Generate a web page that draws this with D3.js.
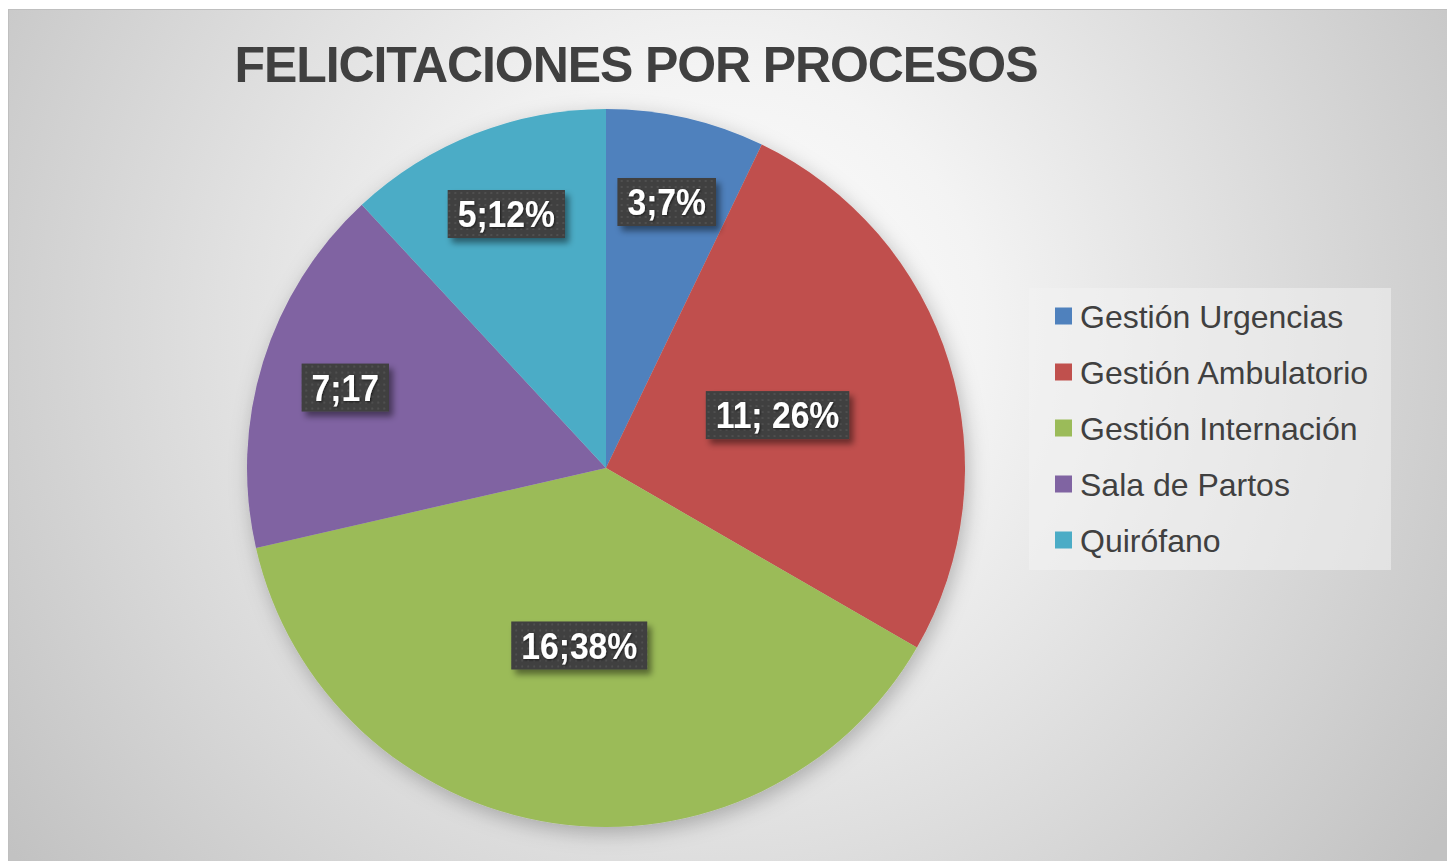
<!DOCTYPE html>
<html lang="es">
<head>
<meta charset="utf-8">
<title>Felicitaciones por procesos</title>
<script src="https://d3js.org/d3.v7.min.js"></script>
<style>
  body { margin: 0; background: #fff; }
  svg { display: block; font-family: "Liberation Sans", Arial, sans-serif; }
  .title { font-weight: bold; fill: #404040; }
  .legend text { fill: #404040; }
  .lbl text { fill: #fff; font-weight: bold; }
</style>
</head>
<body>
<script>
// datos
var procesos = ["Gestión Urgencias", "Gestión Ambulatorio", "Gestión Internación", "Sala de Partos", "Quirófano"];
var felicitaciones = [3, 11, 16, 7, 5];
var etiquetas = ["3;7%", "11; 26%", "16;38%", "7;17", "5;12%"];
var colores = ["#4f81bd", "#c0504d", "#9bbb59", "#8064a2", "#4bacc6"];
var titulo = "FELICITACIONES POR PROCESOS";

var w = 1447, h = 861;
var cx = 606, cy = 468, r = 359;
var sx = 0.91; // estrechamiento del texto de las etiquetas

var svg = d3.select("body").append("svg")
    .attr("width", w)
    .attr("height", h);

var defs = svg.append("defs");

// fondo con degradado radial
var grad = defs.append("radialGradient")
    .attr("id", "fondo")
    .attr("gradientUnits", "userSpaceOnUse")
    .attr("cx", 720).attr("cy", 330).attr("r", 880);
grad.append("stop").attr("offset", "0").attr("stop-color", "#ffffff");
grad.append("stop").attr("offset", "0.3").attr("stop-color", "#f3f3f3");
grad.append("stop").attr("offset", "1").attr("stop-color", "#c2c2c2");

// sombra del pastel
var sh = defs.append("filter").attr("id", "sombra")
    .attr("x", "-20%").attr("y", "-20%").attr("width", "140%").attr("height", "140%");
sh.append("feDropShadow").attr("dx", 3).attr("dy", 6).attr("stdDeviation", 10)
    .attr("flood-color", "#000").attr("flood-opacity", 0.25);

// sombra de las etiquetas
var sh2 = defs.append("filter").attr("id", "sombraLbl")
    .attr("x", "-20%").attr("y", "-30%").attr("width", "140%").attr("height", "170%");
sh2.append("feDropShadow").attr("dx", 4).attr("dy", 5).attr("stdDeviation", 3)
    .attr("flood-color", "#000").attr("flood-opacity", 0.45);

var sh3 = defs.append("filter").attr("id", "sombraTxt");
sh3.append("feDropShadow").attr("dx", 1).attr("dy", 1).attr("stdDeviation", 1)
    .attr("flood-color", "#000").attr("flood-opacity", 0.6);

// trama de puntos para el fondo de las etiquetas
var pat = defs.append("pattern").attr("id", "puntos")
    .attr("patternUnits", "userSpaceOnUse")
    .attr("width", 6).attr("height", 6);
pat.append("rect").attr("width", 6).attr("height", 6).attr("fill", "#3f3f3f");
pat.append("rect").attr("x", 2).attr("y", 2).attr("width", 2).attr("height", 2).attr("fill", "#505050");

svg.append("rect")
    .attr("x", 8.5).attr("y", 9.5)
    .attr("width", w).attr("height", h)
    .attr("fill", "url(#fondo)")
    .attr("stroke", "#bfbfbf");

// titulo
svg.append("text")
    .attr("class", "title")
    .attr("x", 636).attr("y", 82)
    .attr("text-anchor", "middle")
    .style("font-size", "50px")
    .style("letter-spacing", "-1.1px")
    .text(titulo);

// pastel
var pie = d3.pie().sort(null).value(function(d) { return d; });
var arcs = pie(felicitaciones);
var total = d3.sum(felicitaciones);
var arc = d3.arc().innerRadius(0).outerRadius(r);

var g = svg.append("g").attr("transform", "translate(" + cx + "," + cy + ")");

g.append("g").attr("filter", "url(#sombra)")
  .selectAll("path")
    .data(arcs)
    .enter().append("path")
    .attr("d", arc)
    .attr("fill", function(d, i) { return colores[i]; });

// etiquetas: las porciones pequeñas se alejan del centro
var lbl = g.selectAll("g.lbl")
    .data(arcs)
    .enter().append("g")
    .attr("class", "lbl")
    .attr("transform", function(d) {
        var k = d.value / total < 0.2 ? 0.76 : 0.5;
        var c = d3.arc().innerRadius(r * k).outerRadius(r * k).centroid(d);
        return "translate(" + c[0] + "," + c[1] + ")";
    });

lbl.append("rect")
    .attr("fill", "url(#puntos)")
    .attr("filter", "url(#sombraLbl)");

lbl.append("text")
    .attr("text-anchor", "middle")
    .attr("dy", "0.36em")
    .attr("transform", "scale(" + sx + ",1)")
    .style("font-size", "37px")
    .attr("filter", "url(#sombraTxt)")
    .text(function(d, i) { return etiquetas[i]; });

lbl.each(function() {
    var t = d3.select(this).select("text").node().getBBox();
    var tw = t.width * sx;
    d3.select(this).select("rect")
        .attr("x", -tw / 2 - 10)
        .attr("y", -24)
        .attr("width", tw + 20)
        .attr("height", 48);
});

// leyenda
var leg = svg.append("g").attr("class", "legend");
leg.append("rect")
    .attr("x", 1029).attr("y", 288)
    .attr("width", 362).attr("height", 282)
    .attr("fill", "#f2f2f2").attr("fill-opacity", 0.55);

var yLeg = d3.scalePoint().domain(procesos).range([316, 540]);

var item = leg.selectAll("g.item")
    .data(procesos)
    .enter().append("g")
    .attr("class", "item")
    .attr("transform", function(d) { return "translate(1055," + yLeg(d) + ")"; });

item.append("rect")
    .attr("x", 0).attr("y", -8.5)
    .attr("width", 17).attr("height", 17)
    .attr("fill", function(d, i) { return colores[i]; });

item.append("text")
    .attr("x", 25).attr("dy", "0.36em")
    .style("font-size", "32px")
    .text(function(d) { return d; });
</script>
</body>
</html>
